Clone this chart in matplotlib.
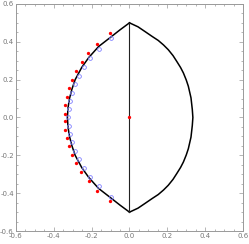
import matplotlib
matplotlib.use('Agg')
import matplotlib.pyplot as plt
from matplotlib.ticker import MultipleLocator

# left (approximate) boundary, top to bottom
left_x = [0.0, -0.05, -0.101, -0.163, -0.215, -0.252, -0.287, -0.304, -0.317, -0.325, -0.328,
          -0.325, -0.317, -0.304, -0.287, -0.252, -0.215, -0.163, -0.101, -0.05, 0.0]
left_y = [0.5, 0.463, 0.423, 0.375, 0.317, 0.265, 0.2, 0.15, 0.1, 0.05, 0.0,
          -0.05, -0.1, -0.15, -0.2, -0.265, -0.317, -0.375, -0.423, -0.463, -0.5]

# right boundary (circular arc), top to bottom
right_x = [0.0, 0.045, 0.082, 0.12, 0.152, 0.18, 0.205, 0.23, 0.25, 0.27, 0.285, 0.3, 0.311,
           0.325, 0.332, 0.335,
           0.332, 0.325, 0.311, 0.3, 0.285, 0.27, 0.25, 0.23, 0.205, 0.18, 0.152, 0.12,
           0.082, 0.045, 0.0]
right_y = [0.5, 0.479, 0.454, 0.428, 0.407, 0.383, 0.358, 0.327, 0.296, 0.264, 0.235, 0.198,
           0.165, 0.104, 0.042, 0.0,
           -0.042, -0.104, -0.165, -0.198, -0.235, -0.264, -0.296, -0.327, -0.358, -0.383,
           -0.407, -0.428, -0.454, -0.479, -0.5]

# vertical segment
seg_x = [0.0, 0.0]
seg_y = [0.5, -0.5]

# red points
red_x = [-0.105, -0.17, -0.218, -0.253, -0.282, -0.304, -0.318, -0.332, -0.34, -0.343,
         -0.343, -0.34, -0.332, -0.318, -0.304, -0.282, -0.255, -0.215, -0.17, -0.105, 0.0]
red_y = [0.446, 0.389, 0.339, 0.291, 0.244, 0.2, 0.154, 0.108, 0.065, 0.021,
         -0.021, -0.065, -0.108, -0.152, -0.197, -0.24, -0.288, -0.336, -0.386, -0.443, 0.0]

# blue open circles
blue_x = [-0.098, -0.163, -0.207, -0.242, -0.269, -0.289, -0.303, -0.313, -0.322, -0.324,
          -0.322, -0.313, -0.303, -0.289, -0.269, -0.242, -0.207, -0.163, -0.098]
blue_y = [0.421, 0.364, 0.312, 0.265, 0.221, 0.176, 0.131, 0.086, 0.044, 0.0,
          -0.044, -0.086, -0.131, -0.176, -0.221, -0.265, -0.312, -0.364, -0.421]

fig = plt.figure(figsize=(2.49, 2.44), dpi=100)
ax = fig.add_axes([0.064, 0.053, 0.912, 0.931])

ax.plot(left_x, left_y, color='black', lw=1.1, solid_joinstyle='round')
ax.plot(right_x, right_y, color='black', lw=1.1, solid_joinstyle='round')
ax.plot(seg_x, seg_y, color='#222222', lw=0.8)

ax.plot(blue_x, blue_y, 'o', ms=2.7, mfc='none', mec='#7f7fff', mew=0.6)
ax.plot(red_x, red_y, 'o', ms=2.4, color='red', mec='red', mew=0)

ax.set_xlim(-0.6, 0.6)
ax.set_ylim(-0.6, 0.6)

gray = '#999999'
for s in ax.spines.values():
    s.set_color(gray)
    s.set_linewidth(0.7)

ax.xaxis.set_major_locator(MultipleLocator(0.2))
ax.xaxis.set_minor_locator(MultipleLocator(0.05))
ax.yaxis.set_major_locator(MultipleLocator(0.2))
ax.yaxis.set_minor_locator(MultipleLocator(0.05))
ax.tick_params(which='both', direction='in', top=True, right=True, color=gray,
               labelcolor='#777777', labelsize=5, width=0.5, pad=1.5)
ax.tick_params(which='major', length=3)
ax.tick_params(which='minor', length=1.5)
ax.xaxis.set_major_formatter(plt.FuncFormatter(lambda v, p: '%.1f' % v))
ax.yaxis.set_major_formatter(plt.FuncFormatter(lambda v, p: '%.1f' % v))

fig.savefig('out.png', dpi=100)
